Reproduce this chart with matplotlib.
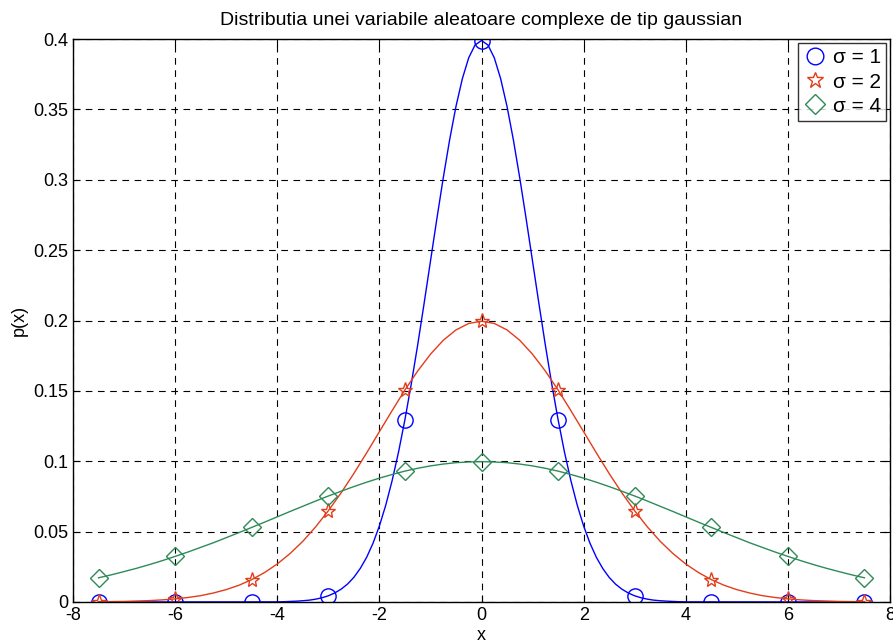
import matplotlib
matplotlib.use("Agg")
import matplotlib.pyplot as plt

plt.rcParams['font.family'] = ['Liberation Sans', 'DejaVu Sans']
plt.rcParams['axes.unicode_minus'] = False

# sigma = 1 curve: fine grid in the middle
x_line1 = [-7.5] + [-4 + 0.125 * i for i in range(65)] + [7.5]
p_sigma1 = [0.0000,
            0.0001, 0.0002, 0.0004, 0.0006, 0.0009, 0.0013, 0.0020, 0.0030,
            0.0044, 0.0064, 0.0091, 0.0127, 0.0175, 0.0238, 0.0317, 0.0417,
            0.0540, 0.0688, 0.0863, 0.1065, 0.1295, 0.1550, 0.1826, 0.2119,
            0.2420, 0.2721, 0.3011, 0.3282, 0.3521, 0.3718, 0.3867, 0.3958,
            0.3989,
            0.3958, 0.3867, 0.3718, 0.3521, 0.3282, 0.3011, 0.2721, 0.2420,
            0.2119, 0.1826, 0.1550, 0.1295, 0.1065, 0.0863, 0.0688, 0.0540,
            0.0417, 0.0317, 0.0238, 0.0175, 0.0127, 0.0091, 0.0064, 0.0044,
            0.0030, 0.0020, 0.0013, 0.0009, 0.0006, 0.0004, 0.0002, 0.0001,
            0.0000]

# sigma = 2 and sigma = 4 curves (step 0.25)
x_line = [-7.5 + 0.25 * i for i in range(61)]

p_sigma2 = [0.0002, 0.0003, 0.0004, 0.0007, 0.0010, 0.0015, 0.0022, 0.0032,
            0.0045, 0.0064, 0.0088, 0.0119, 0.0159, 0.0209, 0.0270, 0.0344,
            0.0431, 0.0533, 0.0648, 0.0775, 0.0913, 0.1059, 0.1210, 0.1360,
            0.1506, 0.1641, 0.1760, 0.1859, 0.1933, 0.1979, 0.1995, 0.1979,
            0.1933, 0.1859, 0.1760, 0.1641, 0.1506, 0.1360, 0.1210, 0.1059,
            0.0913, 0.0775, 0.0648, 0.0533, 0.0431, 0.0344, 0.0270, 0.0209,
            0.0159, 0.0119, 0.0088, 0.0064, 0.0045, 0.0032, 0.0022, 0.0015,
            0.0010, 0.0007, 0.0004, 0.0003, 0.0002]

p_sigma4 = [0.0172, 0.0193, 0.0216, 0.0240, 0.0266, 0.0294, 0.0324, 0.0355,
            0.0388, 0.0421, 0.0457, 0.0493, 0.0530, 0.0567, 0.0605, 0.0643,
            0.0680, 0.0717, 0.0753, 0.0787, 0.0820, 0.0851, 0.0880, 0.0906,
            0.0930, 0.0950, 0.0967, 0.0980, 0.0990, 0.0995, 0.0997, 0.0995,
            0.0990, 0.0980, 0.0967, 0.0950, 0.0930, 0.0906, 0.0880, 0.0851,
            0.0820, 0.0787, 0.0753, 0.0717, 0.0680, 0.0643, 0.0605, 0.0567,
            0.0530, 0.0493, 0.0457, 0.0421, 0.0388, 0.0355, 0.0324, 0.0294,
            0.0266, 0.0240, 0.0216, 0.0193, 0.0172]

# marker positions
x_mark = [-7.5, -6, -4.5, -3, -1.5, 0, 1.5, 3, 4.5, 6, 7.5]
m_sigma1 = [0.0000, 0.0000, 0.0000, 0.0044, 0.1295, 0.3989, 0.1295, 0.0044, 0.0000, 0.0000, 0.0000]
m_sigma2 = [0.0002, 0.0022, 0.0159, 0.0648, 0.1506, 0.1995, 0.1506, 0.0648, 0.0159, 0.0022, 0.0002]
m_sigma4 = [0.0172, 0.0324, 0.0530, 0.0753, 0.0930, 0.0997, 0.0930, 0.0753, 0.0530, 0.0324, 0.0172]

labels = ['\u03c3 = 1', '\u03c3 = 2', '\u03c3 = 4']
colors = ['#0000ff', '#e23d1a', '#2e8b57']
markers = ['o', '*', 'D']

fig = plt.figure(figsize=(8.93, 6.44), dpi=100)
ax = fig.add_axes([73 / 893, 1 - 602 / 644, 817 / 893, 563 / 644])

curves = [(x_line1, p_sigma1), (x_line, p_sigma2), (x_line, p_sigma4)]
for (xs, ys), ms, c, mk, lab in zip(curves, [m_sigma1, m_sigma2, m_sigma4],
                                    colors, markers, labels):
    ax.plot(xs, ys, color=c, lw=1.0)
    msz = 11 if mk != 'D' else 9
    ax.plot(x_mark, ms, linestyle='none', marker=mk, markersize=msz,
            markerfacecolor='none', markeredgecolor=c, markeredgewidth=1.0)
    ax.plot([], [], color=c, marker=mk, markersize=msz + 1, markerfacecolor='none',
            markeredgecolor=c, linestyle='none', label=lab)

ax.set_xlim(-8, 8)
ax.set_ylim(0, 0.4)
ax.set_xticks(range(-8, 9, 2))
ax.set_yticks([0, 0.05, 0.1, 0.15, 0.2, 0.25, 0.3, 0.35, 0.4])
ax.set_yticklabels(['0', '0.05', '0.1', '0.15', '0.2', '0.25', '0.3', '0.35', '0.4'])
ax.grid(True, color='black', linestyle=(0, (6, 5)), linewidth=0.8)
ax.tick_params(direction='in', top=True, right=True, labelsize=13, length=5)
for s in ax.spines.values():
    s.set_linewidth(1.0)

ax.set_title('Distributia unei variabile aleatoare complexe de tip gaussian', fontsize=14, pad=10)
ax.set_xlabel('x', fontsize=13, labelpad=2)
ax.set_ylabel('p(x)', fontsize=13)

leg = ax.legend(loc='upper right', fontsize=15, frameon=True, fancybox=False,
                edgecolor='black', borderaxespad=0.2, handletextpad=0.3,
                handlelength=1.1, borderpad=0.25, labelspacing=0.25)
leg.get_frame().set_linewidth(1.0)

fig.savefig('out.png', dpi=100)
